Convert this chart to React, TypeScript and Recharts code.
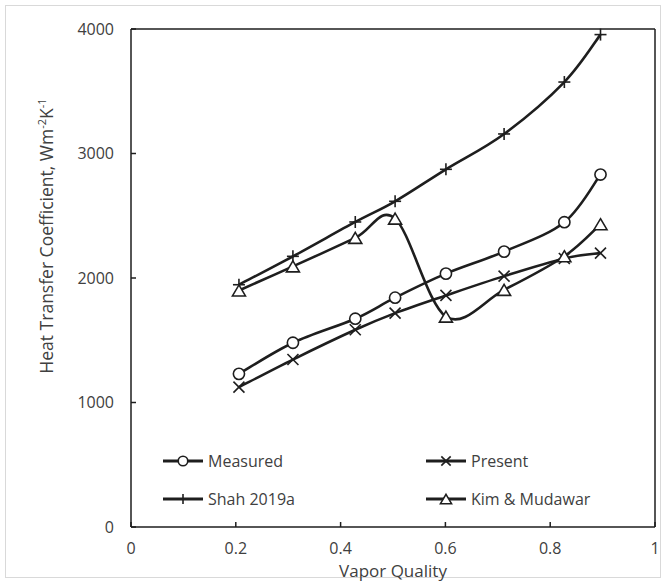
import React from 'react';
import { LineChart, Line, XAxis, YAxis, ReferenceLine, Legend } from 'recharts';

const vaporQuality = [0.206, 0.309, 0.428, 0.504, 0.601, 0.712, 0.827, 0.896];
const measured = [1230, 1480, 1673, 1842, 2035, 2212, 2448, 2831];
const present = [1123, 1345, 1584, 1718, 1860, 2015, 2157, 2200];
const shah2019a = [1946, 2174, 2450, 2616, 2873, 3157, 3574, 3955];
const kimMudawar = [1900, 2093, 2322, 2477, 1690, 1905, 2175, 2432];
const xTicks = [0, 0.2, 0.4, 0.6, 0.8, 1];
const yTicks = [0, 1000, 2000, 3000, 4000];
const seriesNames = ['Measured', 'Present', 'Shah 2019a', 'Kim & Mudawar'];

const data = vaporQuality.map((x, i) => ({
  x,
  measured: measured[i],
  present: present[i],
  shah: shah2019a[i],
  kim: kimMudawar[i],
}));

const INK = '#1e1e1e';
const TEXT = '#404040';
const FONT = '"Open Sans", "Noto Sans", sans-serif';

// Excel-like smoothed line (Catmull-Rom style Bezier)
const smoothCurve: any = (context: any) => {
  let pts: number[][] = [];
  return {
    areaStart() {},
    areaEnd() {},
    lineStart() {
      pts = [];
    },
    point(x: number, y: number) {
      pts.push([+x, +y]);
    },
    lineEnd() {
      const n = pts.length;
      if (!n) return;
      context.moveTo(pts[0][0], pts[0][1]);
      const t = 1 / 6;
      for (let i = 0; i < n - 1; i++) {
        const p0 = pts[i - 1] || pts[i];
        const p1 = pts[i];
        const p2 = pts[i + 1];
        const p3 = pts[i + 2] || p2;
        context.bezierCurveTo(
          p1[0] + (p2[0] - p0[0]) * t,
          p1[1] + (p2[1] - p0[1]) * t,
          p2[0] - (p3[0] - p1[0]) * t,
          p2[1] - (p3[1] - p1[1]) * t,
          p2[0],
          p2[1]
        );
      }
    },
  };
};

type Shape = 'circle' | 'x' | 'plus' | 'triangle';

const Marker = ({ cx, cy, shape, s = 1 }: { cx: number; cy: number; shape: Shape; s?: number }) => {
  if (cx == null || cy == null || isNaN(cx) || isNaN(cy)) return null;
  const sw = 1.6;
  if (shape === 'circle') {
    return <circle cx={cx} cy={cy} r={5.6 * s} fill="#fff" stroke={INK} strokeWidth={sw} />;
  }
  if (shape === 'x') {
    const d = 5.5 * s;
    return (
      <g stroke={INK} strokeWidth={sw}>
        <line x1={cx - d} y1={cy - d} x2={cx + d} y2={cy + d} />
        <line x1={cx - d} y1={cy + d} x2={cx + d} y2={cy - d} />
      </g>
    );
  }
  if (shape === 'plus') {
    const d = 6 * s;
    return (
      <g stroke={INK} strokeWidth={sw}>
        <line x1={cx - d} y1={cy} x2={cx + d} y2={cy} />
        <line x1={cx} y1={cy - d} x2={cx} y2={cy + d} />
      </g>
    );
  }
  const w = 6.5 * s;
  const h = 5.5 * s;
  return (
    <polygon
      points={`${cx},${cy - h} ${cx + w},${cy + h} ${cx - w},${cy + h}`}
      fill="#fff"
      stroke={INK}
      strokeWidth={sw}
      strokeLinejoin="miter"
    />
  );
};

const makeDot = (shape: Shape) => (props: any) => (
  <Marker key={`${shape}-${props.index}`} cx={props.cx} cy={props.cy} shape={shape} />
);

const shapeByKey: Record<string, Shape> = {
  measured: 'circle',
  present: 'x',
  shah: 'plus',
  kim: 'triangle',
};

const LegendContent = (props: any) => {
  const payload = [...(props.payload || [])].sort(
    (a: any, b: any) => seriesNames.indexOf(a.value) - seriesNames.indexOf(b.value)
  );
  return (
    <div
      style={{
        display: 'grid',
        gridTemplateColumns: '263px 200px',
        rowGap: 18,
        fontFamily: FONT,
        fontSize: 16,
        color: TEXT,
      }}
    >
      {payload.map((item: any) => (
        <div key={item.value} style={{ display: 'flex', alignItems: 'center', height: 20 }}>
          <svg width={40} height={20} style={{ display: 'block' }}>
            <line x1={0} y1={10} x2={40} y2={10} stroke={INK} strokeWidth={3} />
            <Marker cx={20} cy={10} shape={shapeByKey[item.dataKey]} s={0.85} />
          </svg>
          <span style={{ marginLeft: 5, lineHeight: '20px' }}>{item.value}</span>
        </div>
      ))}
    </div>
  );
};

const YTitle = () => (
  <text
    x={53}
    y={236}
    transform="rotate(-90, 53, 236)"
    textAnchor="middle"
    fontFamily={FONT}
    fontSize={17.5}
    fill={TEXT}
  >
    Heat Transfer Coefficient, Wm
    <tspan dy={-7} fontSize={11}>-2</tspan>
    <tspan dy={7}>K</tspan>
    <tspan dy={-7} fontSize={11}>-1</tspan>
  </text>
);

const XTitle = (props: any) => {
  const vb = props.viewBox || { x: 131, y: 527, width: 524 };
  return (
    <text
      x={vb.x + vb.width / 2}
      y={vb.y + 50}
      textAnchor="middle"
      fontFamily={FONT}
      fontSize={17}
      fill={TEXT}
    >
      Vapor Quality
    </text>
  );
};

export default function App() {
  return (
    <div style={{ position: 'absolute', left: 0, top: 0, width: 667, height: 582, background: '#fff' }}>
      <div
        style={{
          position: 'absolute',
          left: 5,
          top: 5,
          width: 656,
          height: 573,
          border: '1px solid #d9d9d9',
          boxSizing: 'border-box',
        }}
      />
      <div style={{ position: 'absolute', left: 0, top: 0 }}>
        <LineChart
          width={667}
          height={582}
          data={data}
          margin={{ top: 29, right: 12, bottom: 5, left: 0 }}
        >
          <XAxis
            type="number"
            dataKey="x"
            domain={[0, 1]}
            ticks={xTicks}
            interval={0}
            height={50}
            axisLine={{ stroke: INK, strokeWidth: 1.5 }}
            tickLine={{ stroke: INK, strokeWidth: 1.5 }}
            tickSize={-5}
            tickMargin={21}
            tick={{ fill: TEXT, fontSize: 16, fontFamily: FONT }}
            label={{ content: (p: any) => <XTitle {...p} /> }}
          />
          <YAxis
            type="number"
            domain={[0, 4000]}
            ticks={yTicks}
            interval={0}
            width={131}
            axisLine={{ stroke: INK, strokeWidth: 1.5 }}
            tickLine={{ stroke: INK, strokeWidth: 1.5 }}
            tickSize={-5}
            tickMargin={22}
            tick={{ fill: TEXT, fontSize: 16, fontFamily: FONT }}
            label={{ content: () => <YTitle /> }}
          />
          <ReferenceLine y={4000} stroke={INK} strokeWidth={1.5} ifOverflow="extendDomain" />
          <ReferenceLine x={1} stroke={INK} strokeWidth={1.5} ifOverflow="extendDomain" />
          <Line
            dataKey="measured"
            name={seriesNames[0]}
            type={smoothCurve}
            stroke={INK}
            strokeWidth={2.6}
            dot={makeDot('circle')}
            activeDot={false}
            isAnimationActive={false}
          />
          <Line
            dataKey="present"
            name={seriesNames[1]}
            type={smoothCurve}
            stroke={INK}
            strokeWidth={2.6}
            dot={makeDot('x')}
            activeDot={false}
            isAnimationActive={false}
          />
          <Line
            dataKey="shah"
            name={seriesNames[2]}
            type={smoothCurve}
            stroke={INK}
            strokeWidth={2.6}
            dot={makeDot('plus')}
            activeDot={false}
            isAnimationActive={false}
          />
          <Line
            dataKey="kim"
            name={seriesNames[3]}
            type={smoothCurve}
            stroke={INK}
            strokeWidth={2.6}
            dot={makeDot('triangle')}
            activeDot={false}
            isAnimationActive={false}
          />
          <Legend
            layout="vertical"
            align="center"
            verticalAlign="middle"
            content={<LegendContent />}
            wrapperStyle={{ position: 'absolute', left: 163, top: 451, width: 470 }}
          />
        </LineChart>
      </div>
    </div>
  );
}
